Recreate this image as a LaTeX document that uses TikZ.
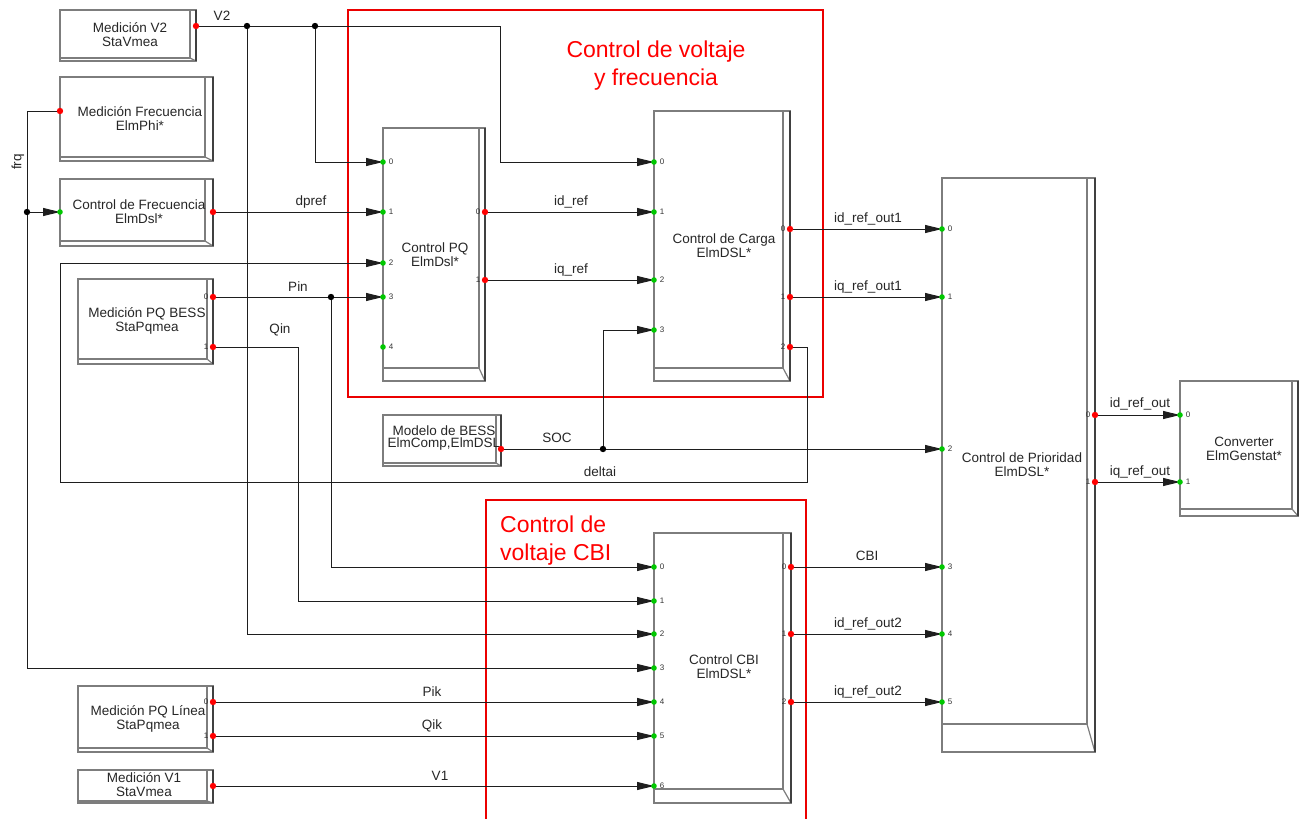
\documentclass[tikz,border=0pt]{standalone}
\usepackage{fontspec}
\setmainfont{Liberation Sans}
\usetikzlibrary{arrows.meta}
\definecolor{pgreen}{RGB}{0,200,0}
\definecolor{pred}{RGB}{255,0,0}
\definecolor{boxred}{RGB}{235,0,0}
\definecolor{wire}{RGB}{30,30,30}
\definecolor{edge}{RGB}{125,125,125}
\newcommand\dblock[7]{%
  \node[blockbox, minimum width={(#4-#2)*1pt}, minimum height={(#5-#3)*1pt}] (#1) at (#2,#3) {};
  \draw[bevel] (#4-#6,#3) -- (#4-#6,#5-#7) -- (#2,#5-#7);
  \draw[bevel] (#4-#6,#5-#7) -- (#4,#5);
  \draw[bevel, draw=black!75] (#4,#3) -- (#4,#5);
}
\newcommand\inp[4]{\coordinate (#1) at (#2,#3); \node[pnum] (#1-n) at (#2+8,#3) {#4};}
\newcommand\outp[4]{\coordinate (#1) at (#2,#3); \node[pnum] (#1-n) at (#2-7,#3) {#4};}
\begin{document}
\begin{tikzpicture}[x=1pt,y=-1pt,
  wirel/.style={draw=wire, line width=1pt},
  sig/.style={wirel, -{Triangle[length=17pt,width=8pt]}},
  blockbox/.style={draw=edge, line width=1.3pt, inner sep=0pt, outer sep=0pt, anchor=north west},
  bevel/.style={draw=edge, line width=1.2pt},
  btext/.style={font=\fontsize{13.5}{14}\selectfont, align=center, text=black!85, inner sep=0pt},
  wlabel/.style={font=\fontsize{13.5}{14}\selectfont, text=black!85, inner sep=0pt},
  pnum/.style={font=\fontsize{8}{8}\selectfont, inner sep=0pt, text=black!80},
  redtxt/.style={font=\fontsize{23}{28}\selectfont, text=pred, inner sep=0pt},
]
\useasboundingbox (0,0) rectangle (1299,819);

% ---------- blocks ----------
\dblock{mv2}{60}{10}{196}{61}{6}{3}
\dblock{mfr}{60}{77}{213}{161}{8}{4}
\dblock{cfr}{60}{179}{213}{246}{8}{5}
\dblock{mpq}{78}{279}{213}{364}{6}{5}
\dblock{cpq}{383}{128}{485}{381}{6}{13}
\dblock{ccg}{654}{111}{790}{381}{7}{13}
\dblock{mbess}{383}{415}{501}{466}{5}{3}
\dblock{cpr}{942}{178}{1095}{752}{8}{28}
\dblock{conv}{1180}{381}{1298}{516}{6}{7}
\dblock{ccbi}{654}{533}{791}{803}{8}{14}
\dblock{mpql}{78}{686}{213}{752}{6}{4}
\dblock{mv1}{78}{770}{213}{803}{6}{2}

\node[btext] (mv2-t) at (130,35) {Medición V2\\StaVmea};
\node[btext] (mfr-t) at (140,119) {Medición Frecuencia\\ElmPhi*};
\node[btext] (cfr-t) at (139,212) {Control de Frecuencia\\ElmDsl*};
\node[btext] (mpq-t) at (147,321) {Medición PQ BESS\\StaPqmea};
\node[btext] (cpq-t) at (435,255) {Control PQ\\ElmDsl*};
\node[btext] (ccg-t) at (724,246) {Control de Carga\\ElmDSL*};
\node[btext, font=\fontsize{13.5}{12}\selectfont] (mbess-t) at (444,438) {Modelo de BESS\\ElmComp,ElmDSL};
\node[btext] (ccbi-t) at (724,667) {Control CBI\\ElmDSL*};
\node[btext] (cpr-t) at (1022,465) {Control de Prioridad\\ElmDSL*};
\node[btext] (conv-t) at (1244,449) {Converter\\ElmGenstat*};
\node[btext] (mpql-t) at (148,719) {Medición PQ Línea\\StaPqmea};
\node[btext] (mv1-t) at (144,785) {Medición V1\\StaVmea};

% ---------- ports ----------
\coordinate (mv2-o) at (196,26);
\coordinate (mfr-o) at (60,111);
\coordinate (cfr-i) at (60,212);
\coordinate (cfr-o) at (213,212);
\outp{mpq-o0}{213}{297}{0}
\outp{mpq-o1}{213}{347}{1}
\inp{cpq-i0}{383}{162}{0}
\inp{cpq-i1}{383}{212}{1}
\inp{cpq-i2}{383}{263}{2}
\inp{cpq-i3}{383}{297}{3}
\inp{cpq-i4}{383}{347}{4}
\outp{cpq-o0}{485}{212}{0}
\outp{cpq-o1}{485}{280}{1}
\inp{ccg-i0}{654}{162}{0}
\inp{ccg-i1}{654}{212}{1}
\inp{ccg-i2}{654}{280}{2}
\inp{ccg-i3}{654}{330}{3}
\outp{ccg-o0}{790}{229}{0}
\outp{ccg-o1}{790}{297}{1}
\outp{ccg-o2}{790}{347}{2}
\coordinate (mbess-o) at (501,449);
\inp{cpr-i0}{942}{229}{0}
\inp{cpr-i1}{942}{297}{1}
\inp{cpr-i2}{942}{449}{2}
\inp{cpr-i3}{942}{567}{3}
\inp{cpr-i4}{942}{634}{4}
\inp{cpr-i5}{942}{702}{5}
\outp{cpr-o0}{1095}{415}{0}
\outp{cpr-o1}{1095}{482}{1}
\inp{conv-i0}{1180}{415}{0}
\inp{conv-i1}{1180}{482}{1}
\inp{ccbi-i0}{654}{567}{0}
\inp{ccbi-i1}{654}{601}{1}
\inp{ccbi-i2}{654}{634}{2}
\inp{ccbi-i3}{654}{668}{3}
\inp{ccbi-i4}{654}{702}{4}
\inp{ccbi-i5}{654}{736}{5}
\inp{ccbi-i6}{654}{786}{6}
\outp{ccbi-o0}{791}{567}{0}
\outp{ccbi-o1}{791}{634}{1}
\outp{ccbi-o2}{791}{702}{2}
\outp{mpql-o0}{213}{702}{0}
\outp{mpql-o1}{213}{736}{1}
\coordinate (mv1-o) at (213,786);

% junctions and bends
\coordinate (j1) at (247,26);
\coordinate (j2) at (315,26);
\coordinate (j3) at (27,212);
\coordinate (j4) at (331,297);
\coordinate (j5) at (603,449);
\coordinate (b1) at (500,26);
\coordinate (b4) at (27,111);
\coordinate (b6) at (807,482);
\coordinate (b6c) at (60,482);
\coordinate (b8) at (298,601);

% ---------- red groups ----------
\draw[boxred, line width=2pt] (348,10) rectangle (823,397);
\draw[boxred, line width=2pt] (486,825) -- (486,500) -- (806,500) -- (806,825);
\node[redtxt, align=center] (rt1) at (656,66) {Control de voltaje\\y frecuencia};
\node[redtxt, align=left, anchor=west] (rt2) at (500,541) {Control de\\voltaje CBI};

% ---------- wires ----------
\draw[sig] (mv2-o) -- (b1) |- (ccg-i0);
\draw[sig] (j2) |- (cpq-i0);
\draw[sig] (j1) |- (ccbi-i2);
\draw[sig] (mfr-o) -- (b4) |- (ccbi-i3);
\draw[sig] (j3) -- (cfr-i);
\draw[sig] (cfr-o) -- (cpq-i1);
\draw[sig] (ccg-o2) -| (b6) -- (b6c) |- (cpq-i2);
\draw[sig] (mpq-o0) -- (cpq-i3);
\draw[sig] (j4) |- (ccbi-i0);
\draw[sig] (mpq-o1) -| (b8) -- (ccbi-i1);
\draw[sig] (cpq-o0) -- (ccg-i1);
\draw[sig] (cpq-o1) -- (ccg-i2);
\draw[sig] (mbess-o) -- (cpr-i2);
\draw[sig] (j5) |- (ccg-i3);
\draw[sig] (ccg-o0) -- (cpr-i0);
\draw[sig] (ccg-o1) -- (cpr-i1);
\draw[sig] (ccbi-o0) -- (cpr-i3);
\draw[sig] (ccbi-o1) -- (cpr-i4);
\draw[sig] (ccbi-o2) -- (cpr-i5);
\draw[sig] (mpql-o0) -- (ccbi-i4);
\draw[sig] (mpql-o1) -- (ccbi-i5);
\draw[sig] (mv1-o) -- (ccbi-i6);
\draw[sig] (cpr-o0) -- (conv-i0);
\draw[sig] (cpr-o1) -- (conv-i1);

% ---------- wire labels ----------
\node[wlabel] (lV2) at (222,16) {V2};
\node[wlabel, rotate=90] (lfrq) at (18,162) {frq};
\node[wlabel] (ldpref) at (311,202) {dpref};
\node[wlabel] (lPin) at (298,287) {Pin};
\node[wlabel] (lQin) at (280,330) {Qin};
\node[wlabel] (lidref) at (571,202) {id\_ref};
\node[wlabel] (liqref) at (571,270) {iq\_ref};
\node[wlabel] (lSOC) at (557,438) {SOC};
\node[wlabel] (ldeltai) at (600,472) {deltai};
\node[wlabel] (lido1) at (868,219) {id\_ref\_out1};
\node[wlabel] (liqo1) at (868,287) {iq\_ref\_out1};
\node[wlabel] (lCBI) at (867,556) {CBI};
\node[wlabel] (lido2) at (868,624) {id\_ref\_out2};
\node[wlabel] (liqo2) at (868,692) {iq\_ref\_out2};
\node[wlabel] (lPik) at (432,692) {Pik};
\node[wlabel] (lQik) at (432,726) {Qik};
\node[wlabel] (lV1) at (440,776) {V1};
\node[wlabel] (lido) at (1140,404) {id\_ref\_out};
\node[wlabel] (liqo) at (1140,472) {iq\_ref\_out};

% ---------- dots ----------
\foreach \p in {cfr-i,cpq-i0,cpq-i1,cpq-i2,cpq-i3,cpq-i4,ccg-i0,ccg-i1,ccg-i2,ccg-i3,
  cpr-i0,cpr-i1,cpr-i2,cpr-i3,cpr-i4,cpr-i5,conv-i0,conv-i1,
  ccbi-i0,ccbi-i1,ccbi-i2,ccbi-i3,ccbi-i4,ccbi-i5,ccbi-i6}
  \fill[pgreen] (\p) circle (2.8pt);
\foreach \p in {mv2-o,mfr-o,cfr-o,mpq-o0,mpq-o1,cpq-o0,cpq-o1,ccg-o0,ccg-o1,ccg-o2,
  mbess-o,cpr-o0,cpr-o1,ccbi-o0,ccbi-o1,ccbi-o2,mpql-o0,mpql-o1,mv1-o}
  \fill[pred] (\p) circle (3.2pt);
\foreach \p in {j1,j2,j3,j4,j5}
  \fill[black] (\p) circle (3.2pt);
\end{tikzpicture}
\end{document}
